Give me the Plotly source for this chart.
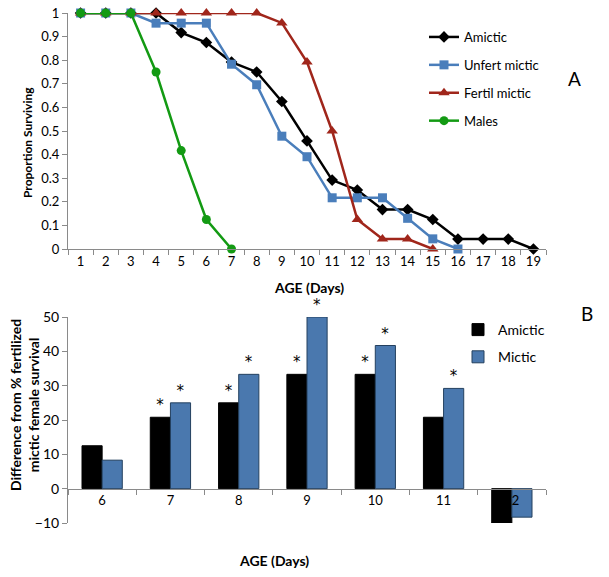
import plotly.graph_objects as go

# ---------------- data ----------------
days = [str(d) for d in range(1, 20)]

amictic = [1, 1, 1, 1, 0.917, 0.875, 0.792, 0.75, 0.625, 0.458, 0.292, 0.25,
           0.167, 0.167, 0.125, 0.042, 0.042, 0.042, 0]
unfert_mictic = [1, 1, 1, 0.957, 0.957, 0.957, 0.783, 0.696, 0.478, 0.391,
                 0.217, 0.217, 0.217, 0.13, 0.043, 0]
fertil_mictic = [1, 1, 1, 1, 1, 1, 1, 1, 0.958, 0.792, 0.5, 0.125, 0.042, 0.042, 0]
males = [1, 1, 1, 0.75, 0.417, 0.125, 0]

diff_days = ["6", "7", "8", "9", "10", "11", "12"]
diff_amictic = [12.5, 20.8, 25, 33.3, 33.3, 20.8, -10]
diff_mictic = [8.3, 25, 33.3, 50, 41.7, 29.2, -8.3]
sig_amictic = ["", "*", "*", "*", "*", "", ""]
sig_mictic = ["", "*", "*", "*", "*", "*", ""]

# ---------------- layout helpers ----------------
W, H = 609, 577
def px_x(x):
    return x / W
def px_y(y):
    return 1 - y / H

FONT = "Lato, 'Liberation Sans', sans-serif"
AX = "#8a8a8a"

top_dom_x = [px_x(68), px_x(546)]
top_dom_y = [px_y(249), px_y(13)]
bot_dom_x = [px_x(68), px_x(546)]
bot_dom_y = [px_y(523), px_y(317)]
bot_range = [-10, 50]
zero_pos = bot_dom_y[0] + (bot_dom_y[1] - bot_dom_y[0]) * (0 - bot_range[0]) / (bot_range[1] - bot_range[0])

fig = go.Figure()

series = [
    ("Amictic", amictic, "#000000", "diamond", 9),
    ("Unfert mictic", unfert_mictic, "#4A7EBB", "square", 9),
    ("Fertil mictic", fertil_mictic, "#A0261B", "triangle-up", 10),
    ("Males", males, "#139A13", "circle", 9),
]
for name, vals, col, sym, sz in series:
    fig.add_trace(go.Scatter(
        x=days[:len(vals)], y=vals, name=name, mode="lines+markers",
        line=dict(color=col, width=2.5),
        marker=dict(color=col, symbol=sym, size=sz),
        xaxis="x", yaxis="y", legend="legend", legendgroup=name,
        cliponaxis=False,
    ))

STAR = dict(family="'DejaVu Sans', sans-serif", size=15, color="#000000")
fig.add_trace(go.Bar(
    x=diff_days, y=diff_amictic, name="Amictic",
    marker=dict(color="#000000", line=dict(color="#000000", width=1)),
    text=sig_amictic, textposition="outside", textfont=STAR,
    cliponaxis=False, xaxis="x2", yaxis="y2", legend="legend2",
    legendgroup="b_amictic",
))
fig.add_trace(go.Bar(
    x=diff_days, y=diff_mictic, name="Mictic",
    marker=dict(color="#4A78AE", line=dict(color="#24405F", width=1)),
    text=sig_mictic, textposition="outside", textfont=STAR,
    cliponaxis=False, xaxis="x2", yaxis="y2", legend="legend2",
    legendgroup="b_mictic",
))

tickfont = dict(family=FONT, size=13, color="#000000")

fig.update_layout(
    template="none",
    width=W, height=H,
    margin=dict(l=0, r=0, t=0, b=0, autoexpand=False),
    paper_bgcolor="white", plot_bgcolor="white",
    font=dict(family=FONT, color="#000000"),
    barmode="group", bargap=0.41, bargroupgap=0,
    xaxis=dict(domain=top_dom_x, anchor="y", type="category", automargin=False,
               tickson="boundaries", ticks="outside", ticklen=5,
               tickcolor=AX, showline=True, linecolor=AX, linewidth=1,
               showgrid=False, zeroline=False, tickfont=tickfont,
               range=[-0.5, 18.5]),
    yaxis=dict(domain=top_dom_y, anchor="x", range=[0, 1], dtick=0.1,
               tickformat="~g", automargin=False,
               ticks="outside", ticklen=5, tickcolor=AX, showline=True,
               linecolor=AX, linewidth=1, showgrid=False, zeroline=False,
               tickfont=tickfont),
    xaxis2=dict(domain=bot_dom_x, anchor="free", position=zero_pos,
                type="category", tickson="boundaries", ticks="outside",
                automargin=False,
                ticklen=5, tickcolor=AX, showline=True, linecolor=AX,
                linewidth=1, showgrid=False, zeroline=False,
                tickfont=tickfont, layer="above traces",
                range=[-0.5, 6.5]),
    yaxis2=dict(domain=bot_dom_y, anchor="x2", range=bot_range, dtick=10,
                automargin=False,
                ticks="outside", ticklen=5, tickcolor=AX, showline=True,
                linecolor=AX, linewidth=1, showgrid=False, zeroline=False,
                tickfont=dict(family=FONT, size=14, color="#000000")),
    legend=dict(x=px_x(424), y=px_y(22), xanchor="left", yanchor="top",
                font=dict(family=FONT, size=13, color="#000000"),
                tracegroupgap=8, bgcolor="rgba(0,0,0,0)", itemwidth=30),
    legend2=dict(x=px_x(458), y=px_y(314), xanchor="left", yanchor="top",
                 font=dict(family=FONT, size=14, color="#000000"),
                 tracegroupgap=6, bgcolor="rgba(0,0,0,0)", itemwidth=30),
    showlegend=True,
)

ann = [
    dict(text="<b>AGE (Days)</b>", x=px_x(309), y=px_y(287), size=14),
    dict(text="<b>Proportion Surviving</b>", x=px_x(27), y=px_y(143), textangle=-90, size=12),
    dict(text="<b>AGE (Days)</b>", x=px_x(274), y=px_y(560), size=14),
    dict(text="<b>Difference from % fertilized<br>mictic female survival</b>",
         x=px_x(24), y=px_y(405), textangle=-90, size=14),
]
for a in ann:
    sz = a.pop("size")
    fig.add_annotation(xref="paper", yref="paper", showarrow=False,
                       xanchor="center", yanchor="middle",
                       font=dict(family=FONT, size=sz, color="#000000"), **a)
fig.add_annotation(text="A", xref="paper", yref="paper", x=px_x(583), y=px_y(65),
                   showarrow=False, font=dict(family=FONT, size=19, color="#000000"))
fig.add_annotation(text="B", xref="paper", yref="paper", x=px_x(595), y=px_y(313),
                   showarrow=False, font=dict(family=FONT, size=19, color="#000000"))

fig.write_html("out.html", config={"displayModeBar": False},
               post_script="document.body.style.margin='0';document.documentElement.style.overflow='hidden';")
